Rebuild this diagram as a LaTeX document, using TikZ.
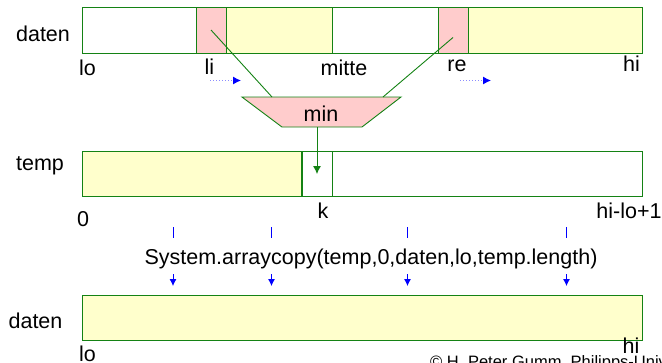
\documentclass[tikz,border=0pt]{standalone}
\usepackage{fontspec}
\setmainfont{Liberation Sans}
\usetikzlibrary{arrows.meta}
\definecolor{dgreen}{RGB}{20,130,20}
\definecolor{yel}{RGB}{255,255,204}
\definecolor{pnk}{RGB}{255,204,204}
\definecolor{lblue}{RGB}{140,140,255}

\begin{document}
\begin{tikzpicture}[x=1pt, y=-1pt,
		c/.style = {rectangle, draw=dgreen,	line width=1pt,	inner sep=0,	minimum height=46},
		l/.style = {anchor=base,	inner sep=0,	font=\fontsize{21.5}{24}\selectfont},
		g/.style = {draw=dgreen,	line width=0.9pt},
		ga/.style = {draw=dgreen,	line width=0.9pt,	-{Latex[length=8,width=8]}},
		bd/.style = {draw=lblue,	dotted,	line width=1pt,	-{Latex[length=8,width=8,blue]}},
		bt/.style = {draw=blue,	line width=0.8pt},
		ba/.style = {draw=blue,	line width=0.8pt,	-{Latex[length=7,width=7]}},
		]
		
		\useasboundingbox (0, 0) rectangle (662, 362);
		\clip (0, 0) rectangle (662, 362);
		
		% === === Arrays === ===
		\node[c, fill=white,	minimum width=114]	(d1)	at	(139, 30)		{};
		\node[c, fill=pnk,		minimum width=30]	(d2)	at	(211, 30)		{};
		\node[c, fill=yel,		minimum width=106]	(d3)	at	(279, 30)		{};
		\node[c, fill=white,	minimum width=106]	(d4)	at	(385, 30)		{};
		\node[c, fill=pnk,		minimum width=30]	(d5)	at	(453, 30)		{};
		\node[c, fill=yel,		minimum width=174]	(d6)	at	(555, 30)		{};
		
		\node[c, fill=yel,		minimum width=220, minimum height=45]	(t1)	at	(192, 174)	{};
		\node[c, fill=white,	minimum width=30, minimum height=45]	(t2)	at	(317, 174)	{};
		\node[c, fill=white,	minimum width=310, minimum height=45]	(t3)	at	(487, 174)	{};
		\draw[dgreen, line width=2pt]	(t2.north west)	--	(t2.south west);
		
		\node[c, fill=yel,		minimum width=560, minimum height=45]	(b1)	at	(362, 317.5)	{};
		
		% === === Labels === ===
		\node[l]	(nd1)	at	(43, 41.5)		{daten};
		\node[l]	(ntp)	at	(40, 170)		{temp};
		\node[l]	(nd2)	at	(35.5, 328)		{daten};
		
		\node[l]	(lo1)	at	(87.5, 75)		{lo};
		\node[l]	(li)	at	(209.5, 74.5)	{li};
		\node[l]	(mi)	at	(344, 75)		{mitte};
		\node[l]	(re)	at	(457, 71)		{re};
		\node[l]	(hi1)	at	(631.5, 71)		{hi};
		
		\node[l]	(n0)	at	(83, 226)		{0};
		\node[l]	(k)		at	(323, 218)		{k};
		\node[l]	(hlo)	at	(629, 218)		{hi-lo+1};
		
		\node[l]	(ac)	at	(371, 264.5)	{System.arraycopy(temp,0,daten,lo,temp.length)};
		
		\node[l]	(lo2)	at	(87.5, 361)		{lo};
		\node[anchor=base west, inner sep=0, font=\fontsize{16.5}{18}\selectfont]
					(cr)	at	(430, 367)		{© H. Peter Gumm, Philipps-Universität Marburg};
		\node[l]	(hi2)	at	(631, 353)		{hi};
		
		% === === min === ===
		\draw[g, fill=pnk]	(242, 97) -- (401, 97) -- (362, 127) -- (282, 127) -- cycle;
		\node[l]	(min)	at	(321, 121)		{min};
		\coordinate	(mL)	at	(272, 97);
		\coordinate	(mR)	at	(383, 97);
		\coordinate	(mB)	at	(317, 127);
		
		\draw[g]	(d2.center)					--	(mL);
		\draw[g]	([yshift=-7.5pt]d5.center)	--	(mR);
		\draw[ga]	(mB)	--	(t2.center);
		
		% === === Moves === ===
		\coordinate	(li0)	at	(210, 80.5);
		\coordinate	(li1)	at	(241, 80.5);
		\coordinate	(re0)	at	(460, 80.5);
		\coordinate	(re1)	at	(491, 80.5);
		\draw[bd]	(li0)	--	(li1);
		\draw[bd]	(re0)	--	(re1);
		
		\foreach \x [count=\i] in {173, 271.5, 407.5, 566.5} {
			\coordinate	(ta\i)	at	(\x, 227);
			\coordinate	(tb\i)	at	(\x, 238);
			\coordinate	(aa\i)	at	(\x, 274);
			\coordinate	(ab\i)	at	(\x, 286);
			\draw[bt]	(ta\i)	--	(tb\i);
			\draw[ba]	(aa\i)	--	(ab\i);
		}
		
	\end{tikzpicture}
\end{document}
